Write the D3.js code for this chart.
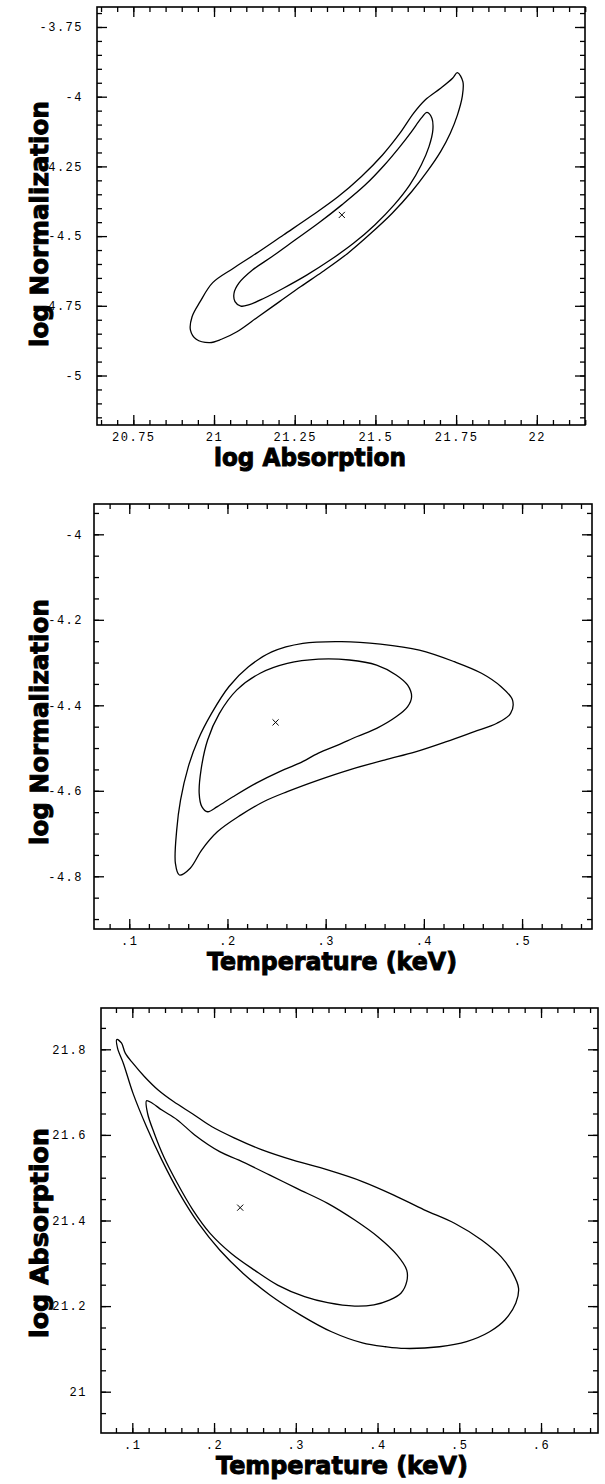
<!DOCTYPE html>
<html>
<head>
<meta charset="utf-8">
<script src="https://cdn.jsdelivr.net/npm/d3@7"></script>
<style>
	body { margin: 0; background: #fff; }
	svg { display: block; }
	.tick text { font-family: "Liberation Mono", "DejaVu Sans Mono", monospace; font-size: 12px; letter-spacing: 1.5px; fill: #000; }
	.tick line { stroke: #000; stroke-width: 1.3px; }
	.axis-title { font-family: "DejaVu Sans", sans-serif; font-weight: bold; font-size: 25px; fill: #000; stroke: #000; stroke-width: 1px; }
</style>
</head>
<body>
<svg id="contours_svg"></svg>
<script>
// ---- panel 1 : log Normalization vs log Absorption ----
const absRange1 = [20.6375, 22.1493];
const normRange1 = [-5.1775, -3.6783];
const absTicks1 = [20.75, 21, 21.25, 21.5, 21.75, 22];
const absLabels1 = ["20.75", "21", "21.25", "21.5", "21.75", "22"];
const normTicks1 = [-3.75, -4, -4.25, -4.5, -4.75, -5];
const normLabels1 = ["-3.75", "-4", "-4.25", "-4.5", "-4.75", "-5"];
const normAbsBest = [21.396, -4.424];
const normAbsOuter = [
	[21.754, -3.914], [21.771, -3.946], [21.769, -4.000], [21.754, -4.066], [21.732, -4.131],
	[21.702, -4.197], [21.660, -4.269], [21.612, -4.341], [21.552, -4.418], [21.486, -4.490],
	[21.414, -4.562], [21.336, -4.628], [21.269, -4.681], [21.203, -4.735], [21.137, -4.789],
	[21.071, -4.843], [21.023, -4.870], [20.987, -4.882], [20.945, -4.870], [20.927, -4.837],
	[20.932, -4.789], [20.957, -4.735], [20.996, -4.667], [21.059, -4.616], [21.131, -4.562],
	[21.215, -4.496], [21.299, -4.430], [21.384, -4.359], [21.456, -4.287], [21.522, -4.209],
	[21.576, -4.131], [21.618, -4.060], [21.654, -4.012], [21.702, -3.970], [21.739, -3.934]
];
const normAbsInner = [
	[21.660, -4.056], [21.675, -4.077], [21.678, -4.119], [21.666, -4.179], [21.642, -4.245],
	[21.606, -4.317], [21.558, -4.388], [21.498, -4.460], [21.432, -4.526], [21.360, -4.586],
	[21.287, -4.640], [21.215, -4.687], [21.155, -4.723], [21.107, -4.747], [21.083, -4.751],
	[21.065, -4.735], [21.062, -4.705], [21.077, -4.669], [21.119, -4.622], [21.179, -4.574],
	[21.251, -4.514], [21.323, -4.454], [21.396, -4.388], [21.468, -4.317], [21.528, -4.245],
	[21.576, -4.179], [21.612, -4.125], [21.642, -4.077]
];

// ---- panel 2 : log Normalization vs Temperature ----
const tempRange2 = [0.0641, 0.5712];
const normRange2 = [-4.9233, -3.9291];
const tempTicks2 = [0.1, 0.2, 0.3, 0.4, 0.5];
const tempLabels2 = [".1", ".2", ".3", ".4", ".5"];
const normTicks2 = [-4, -4.2, -4.4, -4.6, -4.8];
const normLabels2 = ["-4", "-4.2", "-4.4", "-4.6", "-4.8"];
const normTempBest = [0.249, -4.44];
const normTempOuter = [
	[0.1510, -4.797], [0.1470, -4.770], [0.1483, -4.692], [0.1522, -4.622], [0.1601, -4.544],
	[0.1700, -4.481], [0.1838, -4.419], [0.2016, -4.356], [0.2214, -4.310], [0.2451, -4.275],
	[0.2768, -4.255], [0.3163, -4.251], [0.3558, -4.257], [0.3954, -4.271], [0.4310, -4.298],
	[0.4587, -4.325], [0.4784, -4.356], [0.4903, -4.388], [0.4883, -4.419], [0.4744, -4.442],
	[0.4507, -4.462], [0.4230, -4.485], [0.3914, -4.509], [0.3598, -4.528], [0.3242, -4.551],
	[0.2926, -4.575], [0.2609, -4.602], [0.2372, -4.625], [0.2134, -4.657], [0.1897, -4.696],
	[0.1739, -4.738], [0.1621, -4.781]
];
const normTempInner = [
	[0.1798, -4.649], [0.1739, -4.637], [0.1712, -4.606], [0.1731, -4.551], [0.1798, -4.481],
	[0.1918, -4.419], [0.2096, -4.364], [0.2333, -4.325], [0.2609, -4.302], [0.2926, -4.292],
	[0.3242, -4.294], [0.3519, -4.306], [0.3717, -4.329], [0.3835, -4.353], [0.3875, -4.380],
	[0.3835, -4.403], [0.3717, -4.427], [0.3519, -4.454], [0.3321, -4.473], [0.3123, -4.493],
	[0.2926, -4.512], [0.2728, -4.536], [0.2531, -4.555], [0.2293, -4.582], [0.2056, -4.614],
	[0.1897, -4.637]
];

// ---- panel 3 : log Absorption vs Temperature ----
const tempRange3 = [0.0617, 0.6697];
const absRange3 = [20.9035, 21.8965];
const tempTicks3 = [0.1, 0.2, 0.3, 0.4, 0.5, 0.6];
const tempLabels3 = [".1", ".2", ".3", ".4", ".5", ".6"];
const absTicks3 = [21, 21.2, 21.4, 21.6, 21.8];
const absLabels3 = ["21", "21.2", "21.4", "21.6", "21.8"];
const absTempBest = [0.232, 21.43];
const absTempOuter = [
	[0.0810, 21.823], [0.0867, 21.815], [0.0914, 21.791], [0.1009, 21.767], [0.1150, 21.736],
	[0.1316, 21.705], [0.1504, 21.678], [0.1740, 21.649], [0.1975, 21.619], [0.2259, 21.592],
	[0.2588, 21.565], [0.2966, 21.541], [0.3390, 21.518], [0.3815, 21.491], [0.4192, 21.460],
	[0.4570, 21.425], [0.4947, 21.393], [0.5277, 21.354], [0.5513, 21.315], [0.5654, 21.277],
	[0.5725, 21.242], [0.5692, 21.207], [0.5560, 21.168], [0.5371, 21.140], [0.5089, 21.117],
	[0.4758, 21.105], [0.4334, 21.101], [0.4098, 21.105], [0.3815, 21.114], [0.3437, 21.140],
	[0.3060, 21.179], [0.2683, 21.226], [0.2353, 21.277], [0.2069, 21.331], [0.1810, 21.393],
	[0.1575, 21.464], [0.1362, 21.541], [0.1174, 21.619], [0.1009, 21.697], [0.0891, 21.767],
	[0.0820, 21.802]
];
const absTempInner = [
	[0.1174, 21.680], [0.1245, 21.674], [0.1362, 21.658], [0.1551, 21.635], [0.1763, 21.600],
	[0.2069, 21.561], [0.2305, 21.541], [0.2683, 21.506], [0.3012, 21.475], [0.3390, 21.440],
	[0.3721, 21.401], [0.4003, 21.362], [0.4240, 21.319], [0.4357, 21.284], [0.4357, 21.257],
	[0.4286, 21.230], [0.4145, 21.214], [0.3956, 21.203], [0.3721, 21.200], [0.3390, 21.208],
	[0.3107, 21.222], [0.2778, 21.249], [0.2494, 21.284], [0.2211, 21.323], [0.1952, 21.370],
	[0.1740, 21.425], [0.1551, 21.487], [0.1385, 21.549], [0.1268, 21.604], [0.1187, 21.650]
];

const width = 605;
const height = 1484;

const svg = d3.select("#contours_svg")
	.attr("width", width)
	.attr("height", height);

// minor tick positions between two values with a fixed step
function minorTicks(start, stop, step) {
	const n = Math.round((stop - start) / step);
	return d3.range(n + 1).map(i => +(start + i * step).toFixed(4));
}

const panels = [
	{
		frame: [97, 7, 585, 425],
		xDomain: absRange1, yDomain: normRange1,
		xTicks: absTicks1, xLabels: absLabels1, xMinor: minorTicks(20.65, 22.15, 0.05),
		yTicks: normTicks1, yLabels: normLabels1, yMinor: minorTicks(-5.15, -3.7, 0.05),
		contours: [normAbsOuter, normAbsInner], best: normAbsBest,
		xTitle: "log Absorption", xTitleX: 310, xTitleLen: 192,
		yTitle: "log Normalization", yTitleY: 224, yTitleLen: 246, yPad: 14
	},
	{
		frame: [94, 504, 592, 929],
		xDomain: tempRange2, yDomain: normRange2,
		xTicks: tempTicks2, xLabels: tempLabels2, xMinor: minorTicks(0.08, 0.56, 0.02),
		yTicks: normTicks2, yLabels: normLabels2, yMinor: minorTicks(-4.9, -3.95, 0.05),
		contours: [normTempOuter, normTempInner], best: normTempBest,
		xTitle: "Temperature (keV)", xTitleX: 332, xTitleLen: 250,
		yTitle: "log Normalization", yTitleY: 722, yTitleLen: 246, yPad: 11
	},
	{
		frame: [101, 1008, 598, 1433],
		xDomain: tempRange3, yDomain: absRange3,
		xTicks: tempTicks3, xLabels: tempLabels3, xMinor: minorTicks(0.08, 0.66, 0.02),
		yTicks: absTicks3, yLabels: absLabels3, yMinor: minorTicks(20.95, 21.85, 0.05),
		contours: [absTempOuter, absTempInner], best: absTempBest,
		xTitle: "Temperature (keV)", xTitleX: 342, xTitleLen: 252,
		yTitle: "log Absorption", yTitleY: 1233, yTitleLen: 210, yPad: 14
	}
];

function drawPanel(panel) {
	const [left, top, right, bottom] = panel.frame;

	const x = d3.scaleLinear().domain(panel.xDomain).range([left, right]);
	const y = d3.scaleLinear().domain(panel.yDomain).range([bottom, top]);

	const group = svg.append("g");

	// Ticks on all four sides, pointing into the frame
	const noDomain = g => g.select(".domain").remove();

	group.append("g")
		.attr("transform", `translate(0, ${bottom})`)
		.call(d3.axisBottom(x).tickValues(panel.xTicks)
			.tickFormat((d, i) => panel.xLabels[i])
			.tickSizeInner(-10).tickSizeOuter(0).tickPadding(7))
		.call(noDomain);
	group.append("g")
		.attr("transform", `translate(0, ${bottom})`)
		.call(d3.axisBottom(x).tickValues(panel.xMinor).tickFormat("").tickSize(-5))
		.call(noDomain);
	group.append("g")
		.attr("transform", `translate(0, ${top})`)
		.call(d3.axisTop(x).tickValues(panel.xTicks).tickFormat("").tickSize(-10))
		.call(noDomain);
	group.append("g")
		.attr("transform", `translate(0, ${top})`)
		.call(d3.axisTop(x).tickValues(panel.xMinor).tickFormat("").tickSize(-5))
		.call(noDomain);

	group.append("g")
		.attr("transform", `translate(${left}, 0)`)
		.call(d3.axisLeft(y).tickValues(panel.yTicks)
			.tickFormat((d, i) => panel.yLabels[i])
			.tickSizeInner(-10).tickSizeOuter(0).tickPadding(panel.yPad))
		.call(noDomain);
	group.append("g")
		.attr("transform", `translate(${left}, 0)`)
		.call(d3.axisLeft(y).tickValues(panel.yMinor).tickFormat("").tickSize(-5))
		.call(noDomain);
	group.append("g")
		.attr("transform", `translate(${right}, 0)`)
		.call(d3.axisRight(y).tickValues(panel.yTicks).tickFormat("").tickSize(-10))
		.call(noDomain);
	group.append("g")
		.attr("transform", `translate(${right}, 0)`)
		.call(d3.axisRight(y).tickValues(panel.yMinor).tickFormat("").tickSize(-5))
		.call(noDomain);

	// Frame
	group.append("rect")
		.attr("x", left)
		.attr("y", top)
		.attr("width", right - left)
		.attr("height", bottom - top)
		.attr("fill", "none")
		.attr("stroke", "#000")
		.attr("stroke-width", 1.6);

	// Confidence contours
	const line = d3.line()
		.x(d => x(d[0]))
		.y(d => y(d[1]))
		.curve(d3.curveCatmullRomClosed.alpha(0.5));

	group.selectAll(".contour")
		.data(panel.contours)
		.enter().append("path")
		.attr("class", "contour")
		.attr("d", line)
		.attr("fill", "none")
		.attr("stroke", "#000")
		.attr("stroke-width", 1.3);

	// Best fit marker
	group.append("path")
		.attr("transform", `translate(${x(panel.best[0])}, ${y(panel.best[1])})`)
		.attr("d", d3.symbol().type(d3.symbolTimes).size(26))
		.attr("fill", "none")
		.attr("stroke", "#000")
		.attr("stroke-width", 1);

	// Axis titles
	group.append("text")
		.attr("class", "axis-title")
		.attr("x", panel.xTitleX)
		.attr("y", bottom + 41)
		.attr("text-anchor", "middle")
		.attr("textLength", panel.xTitleLen)
		.attr("lengthAdjust", "spacingAndGlyphs")
		.text(panel.xTitle);

	group.append("text")
		.attr("class", "axis-title")
		.attr("transform", `translate(48, ${panel.yTitleY}) rotate(-90)`)
		.attr("text-anchor", "middle")
		.attr("textLength", panel.yTitleLen)
		.attr("lengthAdjust", "spacingAndGlyphs")
		.text(panel.yTitle);
}

panels.forEach(drawPanel);
</script>
</body>
</html>
